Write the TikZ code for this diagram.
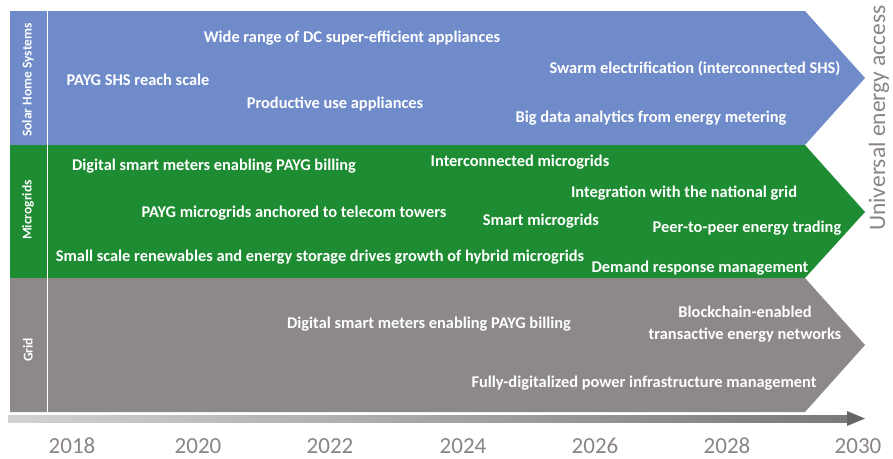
\documentclass[tikz,border=0pt]{standalone}
\usepackage{fontspec}
\setmainfont{Carlito}
\usetikzlibrary{arrows.meta}
\definecolor{shsblue}{HTML}{6F8BC9}
\definecolor{mggreen}{HTML}{1E8C32}
\definecolor{gridgrey}{HTML}{8D8988}
\definecolor{yeargrey}{HTML}{8A8584}
\tikzset{
  lbl/.style={text=white,font=\bfseries\fontsize{16.4}{19}\selectfont,inner sep=0pt,anchor=center},
  lane/.style={text=white,font=\bfseries\fontsize{13.5}{15}\selectfont,rotate=90,inner sep=0pt},
  yr/.style={text=yeargrey,font=\fontsize{23}{26}\selectfont,inner sep=0pt,anchor=base},
}
\begin{document}
\begin{tikzpicture}[x=1pt,y=-1pt]
\useasboundingbox (0,0) rectangle (893,458);
% bands
\fill[shsblue] (10,11) -- (805,11) -- (865,78) -- (805,145) -- (10,145) -- cycle;
\fill[mggreen] (10,145) -- (805,145) -- (865,212) -- (805,278) -- (10,278) -- cycle;
\fill[gridgrey] (10,278) -- (805,278) -- (865,345) -- (805,412) -- (10,412) -- cycle;
\draw[white,line width=0.8pt] (47,11) -- (47,412);
% lane labels
\node[lane] (lshs) at (28,80) {Solar Home Systems};
\node[lane] (lmg) at (28,210) {Microgrids};
\node[lane] (lgrid) at (28,350) {Grid};
% SHS
\node[lbl] (s1) at (352,38) {Wide range of DC super-efficient appliances};
\node[lbl] (s2) at (138,80) {PAYG SHS reach scale};
\node[lbl] (s3) at (335,104) {Productive use appliances};
\node[lbl] (s4) at (695,69) {Swarm electrification (interconnected SHS)};
\node[lbl] (s5) at (651,118) {Big data analytics from energy metering};
% Microgrids
\node[lbl] (m1) at (214,166) {Digital smart meters enabling PAYG billing};
\node[lbl] (m2) at (520,162) {Interconnected microgrids};
\node[lbl] (m3) at (684,193) {Integration with the national grid};
\node[lbl] (m4) at (294,213) {PAYG microgrids anchored to telecom towers};
\node[lbl] (m5) at (541,221) {Smart microgrids};
\node[lbl] (m6) at (747,228) {Peer-to-peer energy trading};
\node[lbl] (m7) at (320,257) {Small scale renewables and energy storage drives growth of hybrid microgrids};
\node[lbl] (m8) at (700,268) {Demand response management};
% Grid
\node[lbl] (g1) at (429,324) {Digital smart meters enabling PAYG billing};
\node[lbl,align=center] (g2) at (745,324) {Blockchain-enabled\\[3pt]transactive energy networks};
\node[lbl] (g3) at (644,383) {Fully-digitalized power infrastructure management};
% timeline
\shade[left color=gray!35,right color=gray!95!black] (8,415) rectangle (849,422);
\fill[black!60] (847,411) -- (865,418.5) -- (847,426) -- cycle;
% years
\node[yr] (y18) at (72,453) {2018};
\node[yr] (y20) at (198,453) {2020};
\node[yr] (y22) at (330,453) {2022};
\node[yr] (y24) at (463,453) {2024};
\node[yr] (y26) at (595,453) {2026};
\node[yr] (y28) at (727,453) {2028};
\node[yr] (y30) at (858,453) {2030};
% universal access
\node[text=yeargrey,font=\fontsize{23.5}{26}\selectfont,rotate=90,inner sep=0pt] (ua) at (879,118) {Universal energy access};
\end{tikzpicture}
\end{document}
